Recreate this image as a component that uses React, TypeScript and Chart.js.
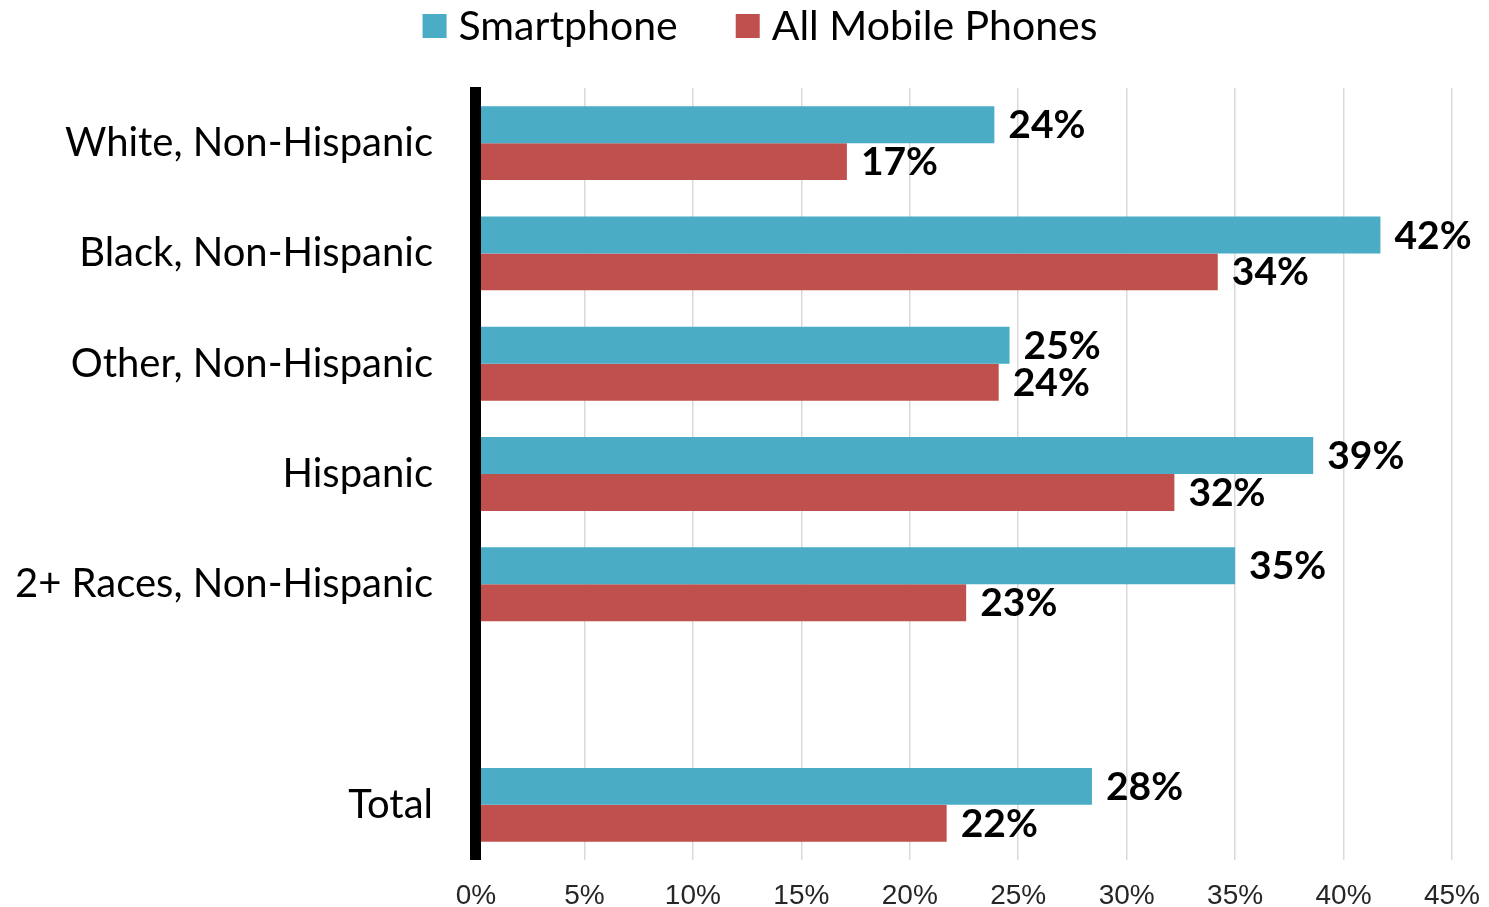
import React, { useEffect, useRef } from "react";
import { Chart, registerables } from "chart.js";

Chart.register(...registerables);

const categories = [
  "White, Non-Hispanic",
  "Black, Non-Hispanic",
  "Other, Non-Hispanic",
  "Hispanic",
  "2+ Races, Non-Hispanic",
  "",
  "Total",
];
const smartphone = [23.9, 41.7, 24.6, 38.6, 35.0, null, 28.4];
const allMobile = [17.1, 34.2, 24.1, 32.2, 22.6, null, 21.7];
const seriesNames = ["Smartphone", "All Mobile Phones"];
const seriesColors = ["#4BACC6", "#C0504D"];
const xTicks = [0, 5, 10, 15, 20, 25, 30, 35, 40, 45];

const FONT = "Lato";

const legendPlugin = {
  id: "customLegend",
  afterDraw(chart: any) {
    const ctx = chart.ctx;
    ctx.save();
    ctx.font = `41px ${FONT}`;
    ctx.textBaseline = "middle";
    ctx.textAlign = "left";
    const box = 24;
    const gap = 12;
    const itemGap = 58;
    const items = chart.data.datasets.map((d: any) => ({
      label: d.label,
      color: d.backgroundColor,
      w: box + gap + ctx.measureText(d.label).width,
    }));
    const total = items.reduce((s: number, it: any) => s + it.w, 0) + itemGap * (items.length - 1);
    let x = 760 - total / 2;
    const y = 26;
    items.forEach((it: any) => {
      ctx.fillStyle = it.color;
      ctx.fillRect(x, y - box / 2, box, box);
      ctx.fillStyle = "#000";
      ctx.fillText(it.label, x + box + gap, y + 1);
      x += it.w + itemGap;
    });
    ctx.restore();
  },
};

const axisLinePlugin = {
  id: "axisLine",
  afterDatasetsDraw(chart: any) {
    const { ctx, chartArea } = chart;
    const x0 = chart.scales.x.getPixelForValue(0);
    ctx.save();
    ctx.fillStyle = "#000";
    ctx.fillRect(x0 - 6, chartArea.top - 1, 11, chartArea.bottom - chartArea.top + 1);
    ctx.restore();
  },
};

const dataLabelPlugin = {
  id: "barValueLabels",
  afterDatasetsDraw(chart: any) {
    const ctx = chart.ctx;
    ctx.save();
    ctx.font = `bold 39px ${FONT}`;
    ctx.fillStyle = "#000";
    ctx.textBaseline = "middle";
    ctx.textAlign = "left";
    chart.data.datasets.forEach((ds: any, i: number) => {
      const meta = chart.getDatasetMeta(i);
      meta.data.forEach((el: any, j: number) => {
        const v = ds.data[j];
        if (v === null || v === undefined) return;
        ctx.fillText(`${Math.round(v)}%`, el.x + 14, el.y + 1);
      });
    });
    ctx.restore();
  },
};

export default function App() {
  const ref = useRef<HTMLCanvasElement>(null);
  useEffect(() => {
    const chart = new Chart(ref.current as HTMLCanvasElement, {
      type: "bar",
      data: {
        labels: categories,
        datasets: [
          { label: seriesNames[0], data: smartphone, backgroundColor: seriesColors[0] },
          { label: seriesNames[1], data: allMobile, backgroundColor: seriesColors[1] },
        ],
      },
      options: {
        indexAxis: "y",
        animation: false,
        responsive: false,
        layout: { padding: { top: 88, left: 0, right: 37, bottom: 0 } },
        datasets: {
          bar: { categoryPercentage: 0.67, barPercentage: 1.0 },
        },
        plugins: {
          legend: { display: false },
          tooltip: { enabled: false },
        },
        scales: {
          x: {
            min: 0,
            max: 45,
            afterBuildTicks(scale: any) {
              scale.ticks = xTicks.map((v) => ({ value: v }));
            },
            afterFit(scale: any) {
              scale.height = 47;
              scale.paddingLeft = 0;
              scale.paddingRight = 0;
            },
            ticks: {
              callback: (v: any) => `${v}%`,
              font: { family: "Liberation Sans", size: 28 },
              color: "#262626",
              padding: 19,
              maxRotation: 0,
            },
            grid: { color: "#d9d9d9", lineWidth: 1.5, drawTicks: false },
            border: { display: false },
          },
          y: {
            afterFit(scale: any) {
              scale.width = 476;
              scale.paddingTop = 0;
              scale.paddingBottom = 0;
            },
            ticks: {
              font: { family: FONT, size: 40 },
              color: "#000",
              padding: 43,
            },
            grid: { display: false, drawTicks: false },
            border: { display: false },
          },
        },
      },
      plugins: [legendPlugin, dataLabelPlugin, axisLinePlugin],
    });
    return () => chart.destroy();
  }, []);
  return (
    <div style={{ position: "fixed", left: 0, top: 0, width: 1489, height: 907, background: "#fff" }}>
      <canvas ref={ref} width={1489} height={907} />
    </div>
  );
}
